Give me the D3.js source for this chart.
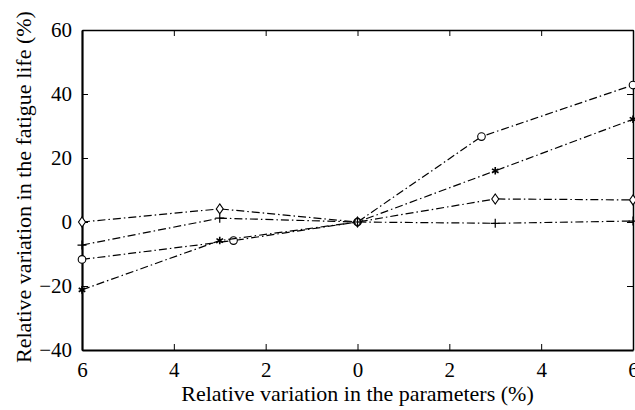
<!DOCTYPE html>
<html>
<head>
<meta charset="utf-8">
<script src="https://cdn.jsdelivr.net/npm/d3@7"></script>
<style>
  body { margin: 0; background: #fff; }
  svg { display: block; }
  text { font-family: "Liberation Serif", "Times New Roman", serif; }
</style>
</head>
<body>
<svg id="chart" width="635" height="410"></svg>
<script>
// x positions of the samples (relative variation of the parameters, %)
var xCircle  = [-6, -2.7, 0, 2.7, 6];
var xOther   = [-6, -3, 0, 3, 6];

// relative variation in the fatigue life (%) for each curve
var circleVals  = [-11.7, -5.8, 0, 26.7, 42.8];
var starVals    = [-21.2, -5.8, 0, 16.0, 32.1];
var diamondVals = [0, 4.1, 0, 7.2, 6.9];
var plusVals    = [-7.2, 1.2, 0, -0.4, 0.3];

var xTicks = [-6, -4, -2, 0, 2, 4, 6];
var yTicks = [-40, -20, 0, 20, 40, 60];

var series = [
  { name: "circle",  xs: xCircle, ys: circleVals },
  { name: "star",    xs: xOther,  ys: starVals },
  { name: "diamond", xs: xOther,  ys: diamondVals },
  { name: "plus",    xs: xOther,  ys: plusVals }
];

var margin = { left: 82, right: 2, top: 30, bottom: 60 };
var W = 635, H = 410;
var FONT = "Liberation Serif, Times New Roman, serif";

var svg = d3.select("#chart");

var x = d3.scaleLinear().domain([-6, 6]).range([margin.left, W - margin.right]);
var y = d3.scaleLinear().domain([-40, 60]).range([H - margin.bottom, margin.top]);

// axes, ticks point inward on all four sides
var axisB = d3.axisBottom(x).tickValues(xTicks).tickSizeInner(-6).tickSizeOuter(0)
  .tickFormat(function(d) { return Math.abs(d); });
var axisT = d3.axisTop(x).tickValues(xTicks).tickSizeInner(-6).tickSizeOuter(0).tickFormat("");
var axisL = d3.axisLeft(y).tickValues(yTicks).tickSizeInner(-6).tickSizeOuter(0);
var axisR = d3.axisRight(y).tickValues(yTicks).tickSizeInner(-6).tickSizeOuter(0).tickFormat("");

function styleAxis(g, w) {
  g.attr("font-family", FONT);
  g.select(".domain").attr("stroke", "#000").attr("stroke-width", w);
  g.selectAll(".tick line").attr("stroke", "#000").attr("stroke-width", 1);
  g.selectAll(".tick text").attr("fill", "#000").attr("font-family", FONT).style("font-size", "21px");
}

svg.append("g").attr("transform", "translate(0," + y(-40) + ")").call(axisB)
  .call(styleAxis, 2.2).selectAll(".tick text").attr("dy", "0.72em").attr("y", 12);
svg.append("g").attr("transform", "translate(0," + y(60) + ")").call(axisT).call(styleAxis, 1.5);
svg.append("g").attr("transform", "translate(" + x(-6) + ",0)").call(axisL)
  .call(styleAxis, 2.2).selectAll(".tick text").attr("x", -10);
svg.append("g").attr("transform", "translate(" + x(6) + ",0)").call(axisR).call(styleAxis, 1.5);

// lines
var line = d3.line().x(function(d) { return x(d[0]); }).y(function(d) { return y(d[1]); });

series.forEach(function(s) {
  var pts = s.xs.map(function(v, i) { return [v, s.ys[i]]; });
  svg.append("path").datum(pts)
    .attr("d", line)
    .attr("fill", "none")
    .attr("stroke", "#000")
    .attr("stroke-width", 1.2)
    .attr("stroke-dasharray", "8,3,1.5,3");

  var g = svg.append("g");
  pts.forEach(function(p) {
    var cx = x(p[0]), cy = y(p[1]);
    if (s.name == "circle") {
      g.append("circle").attr("cx", cx).attr("cy", cy).attr("r", 3.8)
        .attr("fill", "#fff").attr("stroke", "#000").attr("stroke-width", 1.1);
    } else if (s.name == "diamond") {
      g.append("path").attr("d", "M" + cx + "," + (cy - 5) + "L" + (cx + 3.5) + "," + cy +
          "L" + cx + "," + (cy + 5) + "L" + (cx - 3.5) + "," + cy + "Z")
        .attr("fill", "#fff").attr("stroke", "#000").attr("stroke-width", 1.1);
    } else if (s.name == "plus") {
      g.append("path").attr("d", "M" + (cx - 4.5) + "," + cy + "H" + (cx + 4.5) +
          "M" + cx + "," + (cy - 4.5) + "V" + (cy + 4.5))
        .attr("stroke", "#000").attr("stroke-width", 1.2);
    } else {
      g.append("path").attr("d", d3.symbol(d3.symbolAsterisk, 40)())
        .attr("transform", "translate(" + cx + "," + cy + ")")
        .attr("stroke", "#000").attr("stroke-width", 1.6);
    }
  });
});

// axis titles
svg.append("text")
  .attr("x", x(0)).attr("y", 401)
  .attr("text-anchor", "middle")
  .attr("font-family", FONT)
  .style("font-size", "22px")
  .text("Relative variation in the parameters (%)");

svg.append("text")
  .attr("transform", "translate(31," + 187 + ") rotate(-90)")
  .attr("text-anchor", "middle")
  .attr("font-family", FONT)
  .style("font-size", "22px")
  .text("Relative variation in the fatigue life (%)");
</script>
</body>
</html>
